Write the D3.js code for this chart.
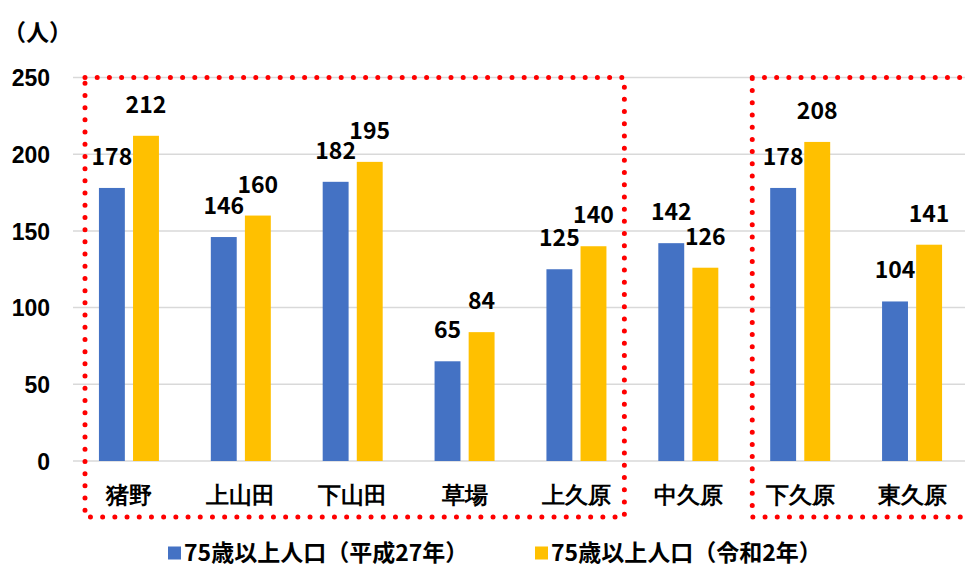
<!DOCTYPE html>
<html>
<head>
<meta charset="utf-8">
<script src="https://cdn.jsdelivr.net/npm/d3@7"></script>
<style>
  html, body { margin: 0; padding: 0; background: #fff; }
  svg { display: block; font-family: "Noto Sans CJK JP", "Noto Sans", sans-serif; font-weight: bold; }
</style>
</head>
<body>
<svg id="chart" width="965" height="567"></svg>
<script>
// Population aged 75+ by district
const categories = ["猪野", "上山田", "下山田", "草場", "上久原", "中久原", "下久原", "東久原"];
const seriesNames = ["75歳以上人口（平成27年）", "75歳以上人口（令和2年）"];
const valuesH27 = [178, 146, 182, 65, 125, 142, 178, 104];
const valuesR2 = [212, 160, 195, 84, 140, 126, 208, 141];
const yTicks = [0, 50, 100, 150, 200, 250];
const unitLabel = "（人）";
// district groups outlined with a dotted frame (first..last category index)
const groups = [[0, 4], [6, 7]];

const colors = ["#4472C4", "#FFC000"];
const W = 965, H = 567;
const FS = 23;
const svg = d3.select("#chart");

const x = d3.scaleBand().domain(categories).range([73, 968]).padding(0);
const bw = x.bandwidth();
const xs = d3.scaleBand().domain([0, 1]).range([bw / 2 - 30, bw / 2 + 30]).paddingInner(0.24);
const y = d3.scaleLinear().domain([0, 250]).range([461, 77.5]);

// gridlines
svg.append("g").selectAll("line").data(yTicks).join("line")
  .attr("x1", 73).attr("x2", W)
  .attr("y1", d => y(d)).attr("y2", d => y(d))
  .attr("stroke", "#d9d9d9").attr("stroke-width", 1.5);

// y axis labels
const yAxis = d3.axisLeft(y).tickValues(yTicks).tickSize(0).tickPadding(0);
const gy = svg.append("g").attr("transform", "translate(50,0)").call(yAxis);
gy.select(".domain").remove();
gy.selectAll("text").attr("font-size", FS).attr("fill", "#000").attr("font-family", null).attr("dy", "0.36em");

svg.append("text").attr("x", 3).attr("y", 41).attr("font-size", FS).attr("fill", "#000").text(unitLabel);

// bars
const series = [valuesH27, valuesR2];
const data = [];
categories.forEach((c, i) => series.forEach((s, k) => data.push({ c, k, v: s[i] })));

svg.append("g").selectAll("rect").data(data).join("rect")
  .attr("x", d => x(d.c) + xs(d.k))
  .attr("width", xs.bandwidth())
  .attr("y", d => y(d.v))
  .attr("height", d => y(0) - y(d.v))
  .attr("fill", d => colors[d.k]);

// value labels
svg.append("g").selectAll("text").data(data).join("text")
  .attr("x", d => x(d.c) + xs(d.k) + xs.bandwidth() / 2)
  .attr("y", d => y(d.v) - 23)
  .attr("text-anchor", "middle")
  .attr("font-size", FS).attr("fill", "#000")
  .text(d => d.v);

// category labels
const xAxis = d3.axisBottom(x).tickSize(0).tickPadding(0);
const gx = svg.append("g").attr("transform", "translate(0,503)").call(xAxis);
gx.select(".domain").remove();
gx.selectAll("text").attr("font-size", FS).attr("fill", "#000").attr("font-family", null).attr("y", 0).attr("dy", 0);

// dotted frames around district groups
const frameLeft = g => x(categories[g[0]]) + (g[0] === 0 ? 12 : 8);
const frameRight = g => x(categories[g[1]]) + bw + (g[1] === categories.length - 1 ? 4 : -8);
svg.append("g").selectAll("rect").data(groups).join("rect")
  .attr("x", frameLeft)
  .attr("y", y(250))
  .attr("width", g => frameRight(g) - frameLeft(g))
  .attr("height", 517 - y(250))
  .attr("fill", "none")
  .attr("stroke", "#FF0000")
  .attr("stroke-width", 5)
  .attr("stroke-linecap", "round")
  .attr("stroke-dasharray", "0 12.2");

// legend
const legend = svg.append("g").attr("transform", "translate(0,553)");
const legendX = [168, 535];
seriesNames.forEach((name, k) => {
  const g = legend.append("g").attr("transform", `translate(${legendX[k]},0)`);
  g.append("rect").attr("x", 0).attr("y", -6.5).attr("width", 13).attr("height", 13).attr("fill", colors[k]);
  g.append("text").attr("x", 16).attr("y", 0).attr("dy", "0.34em").attr("font-size", FS).attr("fill", "#000").text(name);
});
</script>
</body>
</html>
